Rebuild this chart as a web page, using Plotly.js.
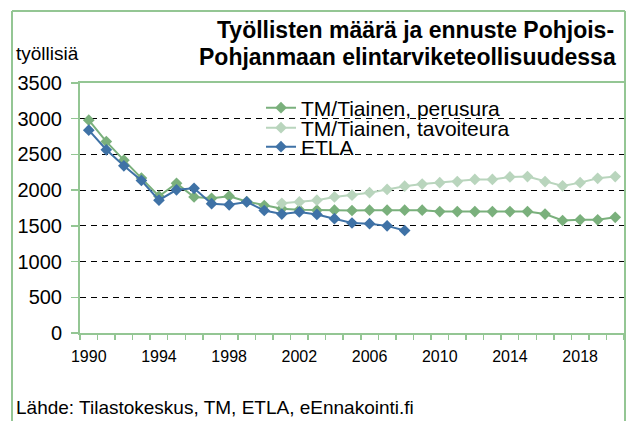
<!DOCTYPE html>
<html>
<head>
<meta charset="utf-8">
<script src="https://cdn.plot.ly/plotly-3.0.1.min.js"></script>
<style>html,body{margin:0;padding:0;background:#fff;}#chart{width:629px;height:421px;}</style>
</head>
<body>
<div id="chart"></div>
<script>
const years = [1990,1991,1992,1993,1994,1995,1996,1997,1998,1999,2000,2001,2002,2003,2004,2005,2006,2007,2008,2009,2010,2011,2012,2013,2014,2015,2016,2017,2018,2019,2020];
const perusura = [2980,2680,2420,2170,1915,2095,1905,1885,1915,1840,1785,1740,1725,1720,1720,1715,1720,1720,1720,1720,1700,1700,1700,1700,1700,1700,1665,1575,1585,1585,1620];
const tavoiteura = [null,null,null,null,null,null,null,null,null,null,null,1815,1835,1860,1905,1930,1965,2010,2055,2085,2105,2120,2150,2150,2185,2190,2120,2060,2105,2165,2190];
const etla = [2840,2565,2340,2135,1860,2005,2025,1810,1795,1835,1715,1665,1695,1660,1600,1540,1530,1500,1435];
const seriesNames = ["TM/Tiainen, perusura","TM/Tiainen, tavoiteura","ETLA"];
const xTickLabels = ["1990","1994","1998","2002","2006","2010","2014","2018"];
const yTicks = [0,500,1000,1500,2000,2500,3000,3500];
const titleLines = ["Työllisten määrä ja ennuste Pohjois-","Pohjanmaan elintarviketeollisuudessa"];

const FONT = "Liberation Sans, Arial, sans-serif";
const GREEN = "#7AB07C", LIGHT = "#B9D5BD", BLUE = "#3F72A6", FRAME = "#94C694";

const mk = (name, y, color, leg) => ({
  type: "scatter", mode: "lines+markers", name: name,
  x: years.slice(0, y.length), y: y, legend: leg,
  line: {color: color, width: 2},
  marker: {symbol: "diamond", size: 9, color: color},
  connectgaps: false
});

const data = [
  mk(seriesNames[0], perusura, GREEN, "legend"),
  mk(seriesNames[1], tavoiteura, LIGHT, "legend2"),
  mk(seriesNames[2], etla, BLUE, "legend3")
];

const px = v => (v-80)/544;      // pixel x -> paper
const py = v => (333-v)/250;     // pixel y -> paper

const legBase = {
  x: px(261), xanchor: "left", yanchor: "middle",
  bgcolor: "rgba(0,0,0,0)", borderwidth: 0,
  font: {family: FONT, size: 21, color: "#000"}
};

const frameLine = (x0, y0, x1, y1) => ({type: "line", xref: "paper", yref: "paper", layer: "above",
  x0: px(x0), y0: py(y0), x1: px(x1), y1: py(y1), line: {color: FRAME, width: 2}});

const layout = {
  width: 629, height: 421,
  margin: {l: 80, r: 5, t: 83, b: 88},
  paper_bgcolor: "#fff", plot_bgcolor: "#fff",
  font: {family: FONT, color: "#000"},
  showlegend: true,
  legend: Object.assign({}, legBase, {y: py(108)}),
  legend2: Object.assign({}, legBase, {y: py(128)}),
  legend3: Object.assign({}, legBase, {y: py(147)}),
  xaxis: {
    type: "linear", range: [1989.5, 2020.5],
    tickvals: xTickLabels.map(Number), ticktext: xTickLabels,
    ticks: "", showgrid: false, zeroline: false, ticklabelstandoff: 8,
    showline: true, linecolor: FRAME, linewidth: 2, mirror: true,
    tickfont: {family: FONT, size: 16, color: "#000"},
    minor: {ticks: "outside", tick0: 1989.5, dtick: 1, ticklen: 5, tickcolor: FRAME, tickwidth: 1.5, showgrid: false}
  },
  yaxis: {
    range: [0, 3500], tickvals: yTicks,
    ticks: "outside", ticklen: 7, tickcolor: FRAME, tickwidth: 1.5, ticklabelstandoff: 5,
    showgrid: true, gridcolor: "#000", gridwidth: 1.2, griddash: "6px,5px",
    zeroline: false, showline: true, linecolor: FRAME, linewidth: 2, mirror: true,
    tickfont: {family: FONT, size: 20, color: "#000"}
  },
  shapes: [
    {type: "rect", xref: "paper", yref: "paper", layer: "between",
     x0: px(218), x1: px(537), y0: py(165), y1: py(92),
     fillcolor: "#fff", line: {width: 0}},
    frameLine(12, 11, 625, 11),
    frameLine(12, 11, 12, 430),
    frameLine(625, 11, 625, 430)
  ],
  annotations: [
    {text: titleLines[0], xref: "paper", yref: "paper", x: px(616), y: py(30),
     xanchor: "right", yanchor: "middle", showarrow: false,
     font: {family: FONT, size: 23, color: "#000", weight: "bold"}},
    {text: titleLines[1], xref: "paper", yref: "paper", x: px(618), y: py(57),
     xanchor: "right", yanchor: "middle", showarrow: false,
     font: {family: FONT, size: 23, color: "#000", weight: "bold"}},
    {text: "työllisiä", xref: "paper", yref: "paper", x: px(14), y: py(54),
     xanchor: "left", yanchor: "middle", showarrow: false,
     font: {family: FONT, size: 19, color: "#000"}},
    {text: "Lähde: Tilastokeskus, TM, ETLA, eEnnakointi.fi", xref: "paper", yref: "paper",
     x: px(14), y: py(407), xanchor: "left", yanchor: "middle", showarrow: false,
     font: {family: FONT, size: 19, color: "#000"}}
  ]
};

Plotly.newPlot("chart", data, layout, {displayModeBar: false, staticPlot: true});
</script>
</body>
</html>
